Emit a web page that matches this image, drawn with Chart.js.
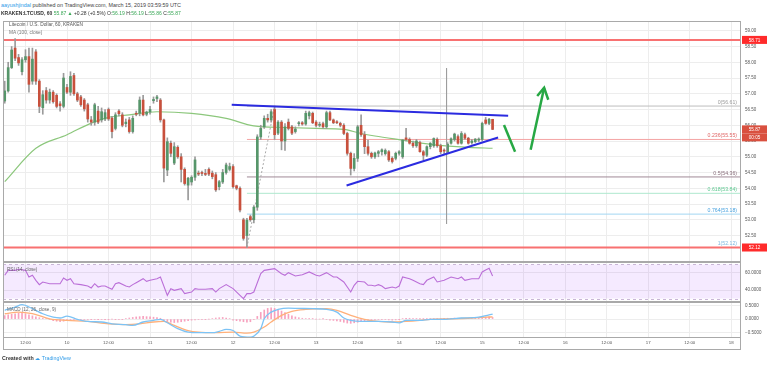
<!DOCTYPE html>
<html>
<head>
<meta charset="utf-8">
<title>LTCUSD 60</title>
<script src="https://cdn.jsdelivr.net/npm/chart.js@4.4.1/dist/chart.umd.min.js"></script>
<style>
  body { margin: 0; width: 768px; height: 365px; background: #fff; position: relative; overflow: hidden; font-family: "Liberation Sans", Arial, sans-serif; }
  canvas { position: absolute; left: 0; }
  #precio { top: 21px; }
  #rsi { top: 262px; }
  #macd { top: 302px; }
  .texto { position: absolute; white-space: nowrap; color: #333; z-index: 2; }
  .verde { color: #3aa757; }
</style>
</head>
<body>
<div class="texto" style="left:1px;top:1.5px;font-size:5.4px;color:#444"><span style="color:#2f9be8">aayushjindal</span> published on TradingView.com, March 15, 2019 03:59:59 UTC</div>
<div class="texto" style="left:1px;top:9.5px;font-size:5px;"><b>KRAKEN:LTCUSD, 60</b> <span class="verde">55.87 &#9650;</span> +0.28 (+0.5%) O:<span class="verde">56.19</span> H:<span class="verde">56.19</span> L:<span class="verde">55.86</span> C:<span class="verde">55.87</span></div>
<div class="texto" style="left:9px;top:22px;font-size:4.8px;color:#555">Litecoin / U.S. Dollar, 60, KRAKEN</div>
<div class="texto" style="left:9px;top:30px;font-size:4.8px;color:#777">MA (100, close)</div>
<div class="texto" style="left:7px;top:266.5px;font-size:4.6px;color:#666">RSI (14, close)</div>
<div class="texto" style="left:7px;top:307px;font-size:4.6px;color:#666">MACD (12, 26, close, 9)</div>
<div class="texto" style="left:2px;top:355px;font-size:5.3px;"><b>Created with</b> <span style="color:#2f9be8">&#9729; TradingView</span></div>
<canvas id="precio" width="768" height="241"></canvas>
<canvas id="rsi" width="768" height="40"></canvas>
<canvas id="macd" width="768" height="48"></canvas>
<script>
// velas de 60 min, la primera a las 06:00 del 9 de marzo (hora 6)
const startHour = 6;
const opens = [
  56.77,57.09,57.83,58.45,58.15,57.70,58.08,58.18,57.40,58.33,
  57.40,56.56,57.10,56.80,57.05,56.95,56.68,56.60,57.20,57.05,
  57.58,57.00,56.90,56.80,56.65,56.17,56.10,56.45,56.17,56.20,
  56.50,56.23,55.90,56.45,56.33,56.05,56.17,55.80,56.38,56.38,
  56.80,56.35,56.42,56.78,56.85,56.80,56.17,54.58,55.43,54.80,
  55.30,55.00,54.60,54.10,54.20,54.35,54.48,54.48,54.46,54.60,
  54.48,54.43,54.05,54.20,54.50,54.60,54.69,54.08,54.00,53.00,
  52.50,53.10,53.00,53.40,55.63,55.95,56.22,56.17,56.50,55.75,
  56.10,55.50,56.10,55.95,55.80,56.05,56.08,56.04,56.30,56.38,
  56.10,56.00,56.05,55.95,56.40,56.17,56.10,56.06,56.00,55.74,
  55.11,54.63,54.95,56.00,55.70,55.32,55.11,55.00,55.11,55.16,
  55.10,55.16,54.95,54.95,55.11,55.00,55.60,55.55,55.43,55.35,
  55.45,55.16,55.05,55.32,55.35,55.55,55.35,55.20,55.16,55.43,
  55.55,55.64,55.43,55.70,55.59,55.45,55.48,55.53,55.55,56.17,
  56.06,56.19
];
const highs = [
  57.40,58.00,58.50,58.75,58.25,58.15,58.40,58.45,58.45,58.40,
  57.45,57.10,57.20,57.15,57.10,57.00,56.75,57.65,57.30,57.70,
  57.65,57.05,56.95,56.85,56.70,56.28,56.70,56.60,56.55,56.50,
  56.55,56.28,56.40,56.50,56.40,56.20,56.25,56.30,56.45,56.90,
  56.95,56.45,56.60,56.90,56.95,56.85,56.20,55.60,55.50,55.45,
  55.35,55.10,54.65,54.35,54.40,55.00,54.55,54.55,54.60,54.65,
  54.55,54.50,54.25,54.60,54.80,54.80,54.75,54.10,54.05,53.05,
  53.05,53.15,53.45,55.70,56.00,56.30,56.35,56.50,56.61,56.15,
  56.15,56.05,56.20,56.00,55.95,56.12,56.12,56.45,56.45,56.42,
  56.15,56.10,56.10,56.45,56.45,56.20,56.15,56.10,56.05,55.78,
  55.15,55.10,56.00,56.33,55.80,55.53,55.15,55.15,55.20,55.25,
  55.25,55.20,55.00,55.15,55.20,55.55,55.90,55.60,55.50,55.55,
  55.50,55.20,55.35,55.45,55.60,55.60,55.40,55.25,55.45,55.60,
  55.75,55.70,55.80,55.75,55.62,55.55,55.58,55.60,56.10,56.25,
  56.22,56.19
];
const lows = [
  56.70,57.05,57.80,58.05,57.90,57.60,58.00,57.05,57.30,57.30,
  56.40,56.35,56.70,56.70,56.70,56.55,56.45,56.55,57.00,56.95,
  56.95,56.75,56.60,56.45,56.10,56.00,56.00,56.05,56.10,56.15,
  56.15,55.60,55.85,56.30,55.95,55.95,55.75,55.75,56.30,56.30,
  56.30,56.30,56.35,56.70,56.75,56.10,54.20,54.40,55.00,54.75,
  54.95,54.20,54.10,53.63,54.10,54.25,54.40,54.40,54.40,54.40,
  54.30,53.90,53.95,54.15,54.45,54.55,54.00,53.95,53.25,52.35,
  52.12,52.95,52.90,53.30,55.55,55.90,56.10,56.10,55.55,55.70,
  55.22,55.20,55.85,55.70,55.75,55.98,56.00,56.00,56.20,56.05,
  55.95,55.95,55.90,55.90,56.15,56.05,56.05,55.95,55.70,55.05,
  54.42,54.55,54.85,55.65,55.10,55.05,54.95,54.95,55.00,55.05,
  55.05,54.85,54.80,54.90,55.05,54.95,55.50,55.40,55.30,55.30,
  55.15,54.90,55.00,55.25,55.30,55.30,55.10,55.10,55.10,55.40,
  55.50,55.40,55.40,55.55,55.40,55.40,55.45,55.48,55.50,56.03,
  56.02,55.86
];
const closes = [
  57.09,57.83,58.39,58.13,57.98,58.08,58.18,57.30,58.10,57.40,
  56.60,56.97,56.80,57.05,56.75,56.60,56.62,57.50,57.05,57.55,
  57.00,56.80,56.65,56.52,56.20,56.10,56.65,56.10,56.43,56.40,
  56.20,55.80,56.33,56.37,56.00,56.10,55.80,56.22,56.35,56.80,
  56.33,56.42,56.50,56.82,56.90,56.17,54.64,55.48,55.11,55.32,
  55.00,54.60,54.15,54.32,54.35,54.90,54.45,54.47,54.44,54.45,
  54.37,53.95,54.21,54.50,54.74,54.69,54.05,54.00,53.31,52.41,
  52.99,53.00,53.40,55.63,55.90,56.22,56.17,56.43,55.70,56.10,
  55.50,55.95,55.90,55.75,55.88,56.08,56.04,56.38,56.40,56.08,
  56.00,56.03,55.95,56.40,56.17,56.08,56.08,56.00,55.74,55.11,
  54.63,54.95,55.95,55.70,55.32,55.11,55.00,55.12,55.16,55.22,
  55.20,54.90,54.85,55.11,55.16,55.53,55.55,55.43,55.35,55.50,
  55.16,55.05,55.32,55.43,55.58,55.35,55.16,55.18,55.40,55.57,
  55.72,55.43,55.74,55.59,55.43,55.50,55.56,55.55,56.06,56.06,
  56.19,55.87
];

// media movil 100
const maHours = [6, 15, 24, 31, 36, 42, 50, 60, 70, 78, 87, 96, 104, 109, 113, 121, 131, 140, 147];
const maValues = [54.21, 55.27, 55.70, 56.07, 56.25, 56.33, 56.43, 56.38, 56.22, 55.98, 55.93, 55.90, 55.87, 55.74, 55.66, 55.53, 55.37, 55.30, 55.27];

// RSI 14
const rsiHours = [6,7,9,10,12,13,14,15,16,17,19,20,22,23,24,25,26,28,30,31,32,33,34,35,37,38,39,41,42,43,44,46,47,48,50,51,53,54,55,57,58,60,61,62,64,66,67,68,70,72,74,75,76,77,78,80,81,84,86,87,88,90,92,94,96,97,99,101,102,104,106,107,108,110,111,112,113,114,115,116,118,119,120,121,123,124,126,127,128,130,131,133,135,137,138,139,141,143,144,145,146,147];
const rsiValues = [57.3,63.1,63.1,64.3,63.1,55.3,57.3,51.4,46.3,49.4,47.4,47.4,47.4,54.1,51.4,53.3,47.4,46.3,44.7,42.4,47.4,43.5,44.7,44.7,40.8,47.4,48.6,44.7,43.5,46.3,48.6,53.3,50.2,51.4,53.3,55.3,33.7,41.6,39.6,41.6,35.7,37.6,41.6,40.8,40.8,41.6,37.6,41.6,46.3,41.6,33.7,29.8,35.7,35.7,37.6,59.2,63.1,65.1,59.2,57.3,60.4,56.5,58.0,61.2,57.3,56.5,60.4,55.3,55.3,49.4,37.6,45.5,50.2,49.4,45.5,45.5,44.7,46.3,44.7,41.6,43.5,42.4,44.7,55.3,53.3,51.4,47.4,46.3,51.4,55.3,49.4,51.4,55.3,53.3,55.3,51.4,53.3,53.3,61.2,63.5,65.5,56.5];

// MACD 12 26 9
const macdHours = [6,9,11,14,17,20,22,24,27,30,34,37,41,43,46,49,51,53,56,59,62,66,68,70,72,74,77,78,80,81,83,85,88,91,95,99,102,104,106,109,114,118,120,122,126,129,133,138,143,146,147];
const macdValues = [0.33,0.45,0.54,0.39,0.20,0.07,0.04,0.11,-0.01,-0.09,-0.11,-0.18,-0.21,-0.24,-0.11,-0.05,-0.01,-0.14,-0.36,-0.49,-0.51,-0.51,-0.46,-0.39,-0.43,-0.64,-0.68,-0.64,-0.36,0.01,0.26,0.36,0.41,0.40,0.39,0.36,0.26,0.04,-0.05,-0.09,-0.09,-0.11,-0.14,-0.05,-0.05,-0.01,-0.01,0.04,0.07,0.16,0.18];
const signalHours = [6,10,14,19,24,30,36,41,45,49,52,55,59,62,67,72,76,78,81,83,86,89,93,99,102,106,110,114,118,122,126,129,135,141,145,147];
const signalValues = [0.20,0.26,0.20,0.01,-0.05,-0.09,-0.18,-0.21,-0.18,-0.11,-0.09,-0.24,-0.43,-0.49,-0.51,-0.49,-0.53,-0.49,-0.30,-0.11,0.14,0.29,0.36,0.39,0.33,0.14,-0.01,-0.09,-0.11,-0.09,-0.05,-0.01,0.01,0.04,0.07,0.08];
const histValues = [
  0.13,0.16,0.18,0.2,0.22,0.22,0.2,0.16,0.12,0.08,0.05,0.03,
  0.02,-0.02,-0.06,-0.08,-0.1,-0.08,-0.06,-0.05,-0.04,-0.03,-0.02,-0.02,
  -0.02,-0.01,-0.02,-0.01,-0.02,-0.01,-0.01,0,-0.01,-0.02,-0.01,0.02,
  0.04,0.06,0.08,0.09,0.1,0.09,0.08,0.07,0.06,0.03,-0.05,-0.09,
  -0.12,-0.13,-0.12,-0.1,-0.08,-0.06,-0.04,-0.03,-0.02,-0.02,-0.01,0,
  0.02,0.04,0.05,0.06,0.04,0.02,-0.04,-0.06,-0.08,-0.1,-0.12,-0.1,
  -0.02,0.1,0.25,0.34,0.4,0.42,0.4,0.36,0.3,0.24,0.18,0.12,
  0.08,0.05,0.03,0.02,0.01,0.01,0,0,0.01,-0.02,-0.04,-0.05,
  -0.07,-0.09,-0.12,-0.15,-0.16,-0.14,-0.12,-0.09,-0.07,-0.05,-0.04,-0.03,
  -0.02,-0.02,-0.02,-0.03,-0.04,-0.03,-0.01,0.02,0.03,0.03,0.02,0.01,
  0.01,0.01,0.02,0.02,0.02,0.01,0.02,0.03,0.03,0.03,0.04,0.03,
  0.03,0.03,0.02,0.02,0.03,0.04,0.05,0.07,0.08,0.06
];

// ejes
const xMin = 5.5, xMax = 218.8;
const timeTicks = [12, 24, 36, 48, 60, 72, 84, 96, 108, 120, 132, 144, 156, 168, 180, 192, 204, 216];
const timeLabels = ['12:00', '10', '12:00', '11', '12:00', '12', '12:00', '13', '12:00', '14', '12:00', '15', '12:00', '16', '12:00', '17', '12:00', '18'];
const priceTicks = [52.5, 53, 53.5, 54, 54.5, 55, 55.5, 56, 56.5, 57, 57.5, 58, 58.5, 59];
const rsiTicks = [40, 60];
const macdTicks = [-0.5, 0, 0.5];

// dibujos
const redLevels = [58.71, 52.12];
const fibLevels = ['0', '0.236', '0.5', '0.618', '0.764', '1'];
const fibPrices = [56.61, 55.55, 54.36, 53.84, 53.18, 52.12];
const fibStart = 76;
const upperTrend = [[71.6, 56.65], [151.5, 56.30]];
const lowerTrend = [[104.8, 54.09], [148.6, 55.61]];
const fibDiagonal = [[76, 52.12], [84, 56.61]];
const arrowDown = [[150.3, 56.01], [153.5, 55.16]];
const arrowUp = [[158.0, 55.22], [161.9, 57.19]];
const arrowHead = [[159.9, 56.93], [161.9, 57.19], [163.1, 56.81]];
const markerLine = [[133.7, 57.81], [133.7, 52.87]];
const lastPrice = 55.87;
const countdown = '00:05';

const fibLineColors = ['#bdbdbd', '#f4a3a3', '#a08a96', '#aee8cf', '#a3d6f2', '#c9a3a3'];
const fibTextColors = ['#9a9a9a', '#e06666', '#8a6f7c', '#5fc992', '#4aa3df', '#7fb8e0'];

Chart.defaults.font.family = '"Liberation Sans", Arial, sans-serif';
Chart.defaults.animation = false;

function linea(puntos, color, ancho, extra) {
    return Object.assign({
        type: 'line',
        data: puntos.map(p => ({ x: p[0], y: p[1] })),
        borderColor: color,
        borderWidth: ancho,
        pointRadius: 0,
        tension: 0,
        order: 0
    }, extra || {});
}

function ejeTiempo(conEtiquetas) {
    return {
        type: 'linear', min: xMin, max: xMax, offset: false,
        afterBuildTicks: (s) => { s.ticks = timeTicks.map(v => ({ value: v })); },
        grid: { color: '#ededed', drawTicks: false, offset: false },
        border: { display: false },
        ticks: {
            display: conEtiquetas, autoSkip: false, maxRotation: 0, padding: 2,
            color: '#555', font: { size: 4.4 },
            callback: (v, i) => timeLabels[i]
        },
        afterFit: (s) => { s.height = conEtiquetas ? 12 : 0; s.paddingLeft = 0; s.paddingRight = 0; }
    };
}

function ejeValores(min, max, marcas, formato) {
    return {
        type: 'linear', position: 'right', min: min, max: max,
        afterBuildTicks: (s) => { s.ticks = marcas.map(v => ({ value: v })); },
        grid: { color: '#ededed', drawTicks: false },
        border: { display: false },
        ticks: { padding: 4, color: '#555', font: { size: 4.5 }, callback: formato },
        afterFit: (s) => { s.width = 27; s.paddingTop = 0; s.paddingBottom = 0; }
    };
}

const marco = {
    id: 'marco',
    afterDraw(chart) {
        let a = chart.chartArea;
        let ctx = chart.ctx;
        ctx.save();
        ctx.strokeStyle = '#a9a9a9';
        ctx.lineWidth = 1;
        ctx.strokeRect(a.left + 0.5, a.top + 0.5, a.right - a.left - 1, a.bottom - a.top - 1);
        ctx.restore();
    }
};

function etiqueta(ctx, yc, texto, color) {
    ctx.fillStyle = color;
    ctx.fillRect(742, yc - 4, 25, 8);
    ctx.fillStyle = '#fff';
    ctx.textAlign = 'center';
    ctx.textBaseline = 'middle';
    ctx.fillText(texto, 754.5, yc + 0.5);
}

const etiquetasPrecio = {
    id: 'etiquetasPrecio',
    afterDraw(chart) {
        let ctx = chart.ctx;
        let y = chart.scales.y;
        let a = chart.chartArea;
        ctx.save();
        ctx.font = '5.2px "Liberation Sans"';
        ctx.textAlign = 'right';
        ctx.textBaseline = 'bottom';
        fibPrices.forEach((p, i) => {
            ctx.fillStyle = fibTextColors[i];
            ctx.fillText(fibLevels[i] + '(' + p.toFixed(2) + ')', a.right - 4, y.getPixelForValue(p) - 1);
        });
        ctx.font = '4.6px "Liberation Sans"';
        etiqueta(ctx, y.getPixelForValue(redLevels[0]), redLevels[0].toFixed(2), '#ff2b2b');
        etiqueta(ctx, y.getPixelForValue(redLevels[1]), redLevels[1].toFixed(2), '#ff2b2b');
        let yp = y.getPixelForValue(lastPrice);
        etiqueta(ctx, yp, lastPrice.toFixed(2), '#d9503f');
        etiqueta(ctx, yp + 8, countdown, '#d9503f');
        ctx.restore();
    }
};

function graficarPrecio() {
    let bodies = [], wicks = [], colores = [];
    for (let i = 0; i < closes.length; i++) {
        let h = startHour + i;
        bodies.push({ x: h, y: [opens[i], closes[i]] });
        wicks.push({ x: h, y: [lows[i], highs[i]] });
        colores.push(closes[i] >= opens[i] ? '#56966a' : '#c8503c');
    }
    let datasets = [
        linea(upperTrend, '#2b2be0', 2),
        linea(lowerTrend, '#2b2be0', 2),
        linea(arrowDown, '#27a844', 2.5),
        linea(arrowUp, '#27a844', 2.5),
        linea(arrowHead, '#27a844', 2.5),
        linea(markerLine, '#9e9e9e', 1),
        { type: 'bar', data: bodies, backgroundColor: colores, barThickness: 2, minBarLength: 1, grouped: false, order: 1 },
        { type: 'bar', data: wicks, backgroundColor: '#9a9a9a', barThickness: 1, grouped: false, order: 2 },
        linea(maHours.map((h, i) => [h, maValues[i]]), '#8cc77c', 1.2, { order: 3, cubicInterpolationMode: 'monotone' }),
        linea(fibDiagonal, '#aaaaaa', 1, { order: 4, borderDash: [2, 2] })
    ];
    redLevels.forEach(p => datasets.push(linea([[xMin, p], [xMax, p]], '#f87171', 2, { order: 5 })));
    fibPrices.forEach((p, i) => datasets.push(linea([[fibStart, p], [xMax, p]], fibLineColors[i], 1, { order: 6 })));

    new Chart(document.getElementById('precio'), {
        type: 'bar',
        data: { datasets: datasets },
        options: {
            responsive: false, devicePixelRatio: 1, events: [],
            layout: { padding: { left: 3, right: 0, top: 0, bottom: 0 } },
            plugins: { legend: { display: false }, tooltip: { enabled: false } },
            scales: {
                x: ejeTiempo(false),
                y: ejeValores(51.66, 59.31, priceTicks, (v) => v.toFixed(2))
            }
        },
        plugins: [marco, etiquetasPrecio]
    });
}

const bandaRsi = {
    id: 'bandaRsi',
    beforeDatasetsDraw(chart) {
        let ctx = chart.ctx;
        let a = chart.chartArea;
        let y = chart.scales.y;
        let y70 = y.getPixelForValue(70), y30 = y.getPixelForValue(30);
        ctx.save();
        ctx.fillStyle = 'rgba(153, 51, 255, 0.1)';
        ctx.fillRect(a.left, y70, a.right - a.left, y30 - y70);
        ctx.strokeStyle = '#c9b6d6';
        ctx.lineWidth = 1;
        ctx.setLineDash([3, 3]);
        ctx.beginPath();
        ctx.moveTo(a.left, Math.round(y70) + 0.5); ctx.lineTo(a.right, Math.round(y70) + 0.5);
        ctx.moveTo(a.left, Math.round(y30) + 0.5); ctx.lineTo(a.right, Math.round(y30) + 0.5);
        ctx.stroke();
        ctx.restore();
    }
};

function graficarRsi() {
    new Chart(document.getElementById('rsi'), {
        type: 'line',
        data: {
            datasets: [linea(rsiHours.map((h, i) => [h, rsiValues[i]]), '#bb6fd8', 1.1)]
        },
        options: {
            responsive: false, devicePixelRatio: 1, events: [],
            layout: { padding: { left: 3, right: 0, top: 0, bottom: 0 } },
            plugins: { legend: { display: false }, tooltip: { enabled: false } },
            scales: {
                x: ejeTiempo(false),
                y: ejeValores(25.9, 72.9, rsiTicks, (v) => v.toFixed(4))
            }
        },
        plugins: [bandaRsi, marco]
    });
}

const pieMacd = {
    id: 'pieMacd',
    afterDraw(chart) {
        let ctx = chart.ctx;
        let a = chart.chartArea;
        ctx.save();
        ctx.strokeStyle = '#a9a9a9';
        ctx.lineWidth = 1;
        ctx.beginPath();
        ctx.moveTo(a.left, 47.5); ctx.lineTo(a.right, 47.5);
        ctx.moveTo(a.left + 0.5, a.bottom); ctx.lineTo(a.left + 0.5, 48);
        ctx.moveTo(a.right - 0.5, a.bottom); ctx.lineTo(a.right - 0.5, 48);
        ctx.stroke();
        ctx.restore();
    }
};

function graficarMacd() {
    let barras = histValues.map((v, i) => ({ x: startHour + i, y: v }));
    new Chart(document.getElementById('macd'), {
        type: 'bar',
        data: {
            datasets: [
                linea(macdHours.map((h, i) => [h, macdValues[i]]), '#7cc3f5', 1.3, { order: 0, cubicInterpolationMode: 'monotone' }),
                linea(signalHours.map((h, i) => [h, signalValues[i]]), '#ffb07a', 1.3, { order: 1, cubicInterpolationMode: 'monotone' }),
                { type: 'bar', data: barras, backgroundColor: '#f7a1be', barThickness: 1, grouped: false, order: 2 }
            ]
        },
        options: {
            responsive: false, devicePixelRatio: 1, events: [],
            layout: { padding: { left: 3, right: 0, top: 0, bottom: 0 } },
            plugins: { legend: { display: false }, tooltip: { enabled: false } },
            scales: {
                x: ejeTiempo(true),
                y: ejeValores(-0.71, 0.64, macdTicks, (v) => (v < 0 ? '\u2212' + Math.abs(v).toFixed(4) : v.toFixed(4)))
            }
        },
        plugins: [marco, pieMacd]
    });
}

graficarPrecio();
graficarRsi();
graficarMacd();
</script>
</body>
</html>
